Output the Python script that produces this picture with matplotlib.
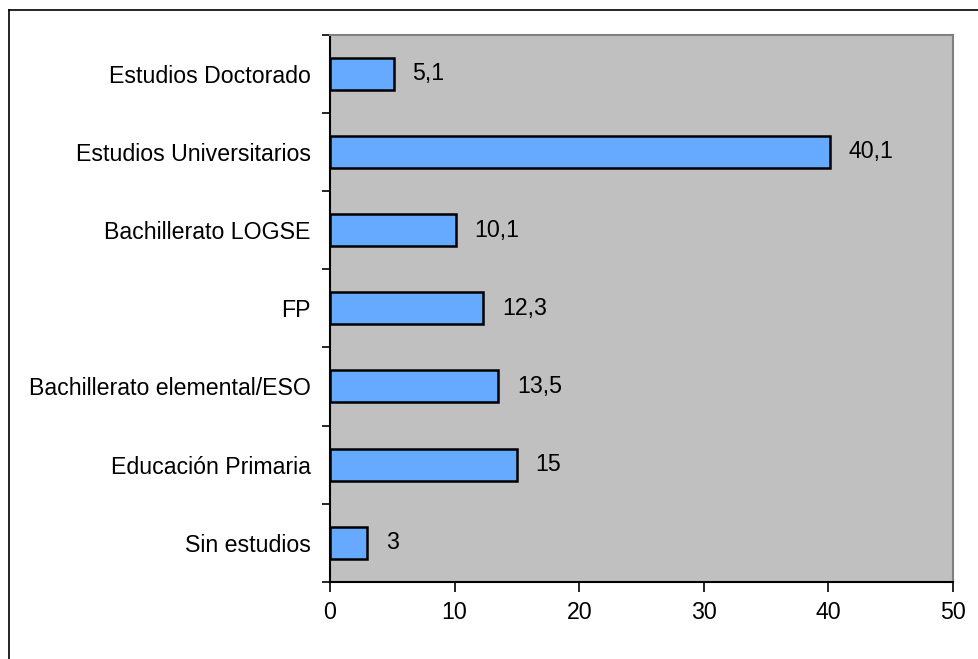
import numpy as np
import matplotlib.pyplot as plt
from matplotlib.lines import Line2D

categories = ["Sin estudios", "Educación Primaria", "Bachillerato elemental/ESO",
              "FP", "Bachillerato LOGSE", "Estudios Universitarios", "Estudios Doctorado"]
values = [3, 15, 13.5, 12.3, 10.1, 40.1, 5.1]
value_labels = ["3", "15", "13,5", "12,3", "10,1", "40,1", "5,1"]
xticks = [0, 10, 20, 30, 40, 50]

plt.rcParams['font.family'] = ['Liberation Sans', 'DejaVu Sans']

fig = plt.figure(figsize=(9.79, 6.59), dpi=100)
ax = fig.add_axes([330/979, 1 - 582/659, 623/979, 547.5/659])
ax.set_facecolor('#C0C0C0')

y = np.arange(len(categories))
bars = ax.barh(y, values, height=0.41, color='#66AAFF', edgecolor='black', linewidth=1.8)

# value labels to the right of each bar
for bar, lab in zip(bars, value_labels):
    ax.annotate(lab, (bar.get_width(), bar.get_y() + bar.get_height()/2),
                xytext=(13.5, 0), textcoords='offset points',
                ha='left', va='center', fontsize=16.7)

ax.set_xlim(0, 50)
ax.set_ylim(-0.5, len(categories) - 0.5)
ax.set_xticks(xticks)
ax.set_xticklabels([str(t) for t in xticks], fontsize=16.7)

# category labels at centers, ticks at boundaries
ax.set_yticks(np.arange(-0.5, len(categories)), minor=False)
ax.set_yticklabels([])
ax.set_yticks(y, minor=True)
ax.set_yticklabels(categories, minor=True, fontsize=16.7)
ax.tick_params(axis='y', which='minor', length=0, pad=14)
ax.tick_params(axis='y', which='major', length=6, width=1.2, direction='out')
ax.tick_params(axis='x', length=7, width=1.2, direction='out', pad=7)

for s in ['left', 'bottom']:
    ax.spines[s].set_color('black')
    ax.spines[s].set_linewidth(1.5)
for s in ['right', 'top']:
    ax.spines[s].set_color('#808080')
    ax.spines[s].set_linewidth(1.5)

# outer frame (only top and left visible in the original crop)
fig.add_artist(Line2D([9/979, 9/979], [0, 1 - 10/659], color='black', lw=1.2))
fig.add_artist(Line2D([9/979, 1], [1 - 10/659, 1 - 10/659], color='black', lw=1.2))

plt.savefig("out.png", dpi=100)
plt.close()
